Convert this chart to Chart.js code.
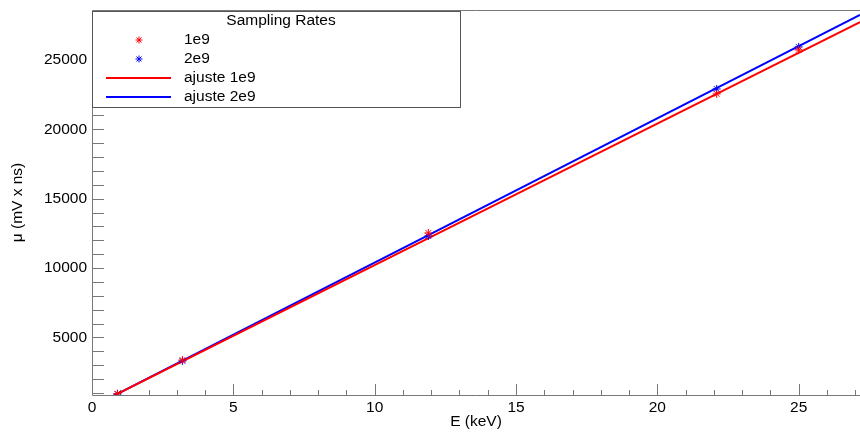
<!DOCTYPE html>
<html>
<head>
<meta charset="utf-8">
<script src="https://cdn.jsdelivr.net/npm/chart.js@4.4.0/dist/chart.umd.min.js"></script>
<style>
html, body { margin: 0; padding: 0; background: #fff; }
</style>
</head>
<body>
<canvas id="c" width="860" height="432"></canvas>
<script>
// measured points, E (keV) vs mu (mV x ns)
var energy = [0.9, 3.2, 11.9, 22.1, 25.0];
var mu1e9 = [950, 3370, 12530, 22550, 25720];
var mu2e9 = [930, 3300, 12310, 22910, 25940];

// linear fits p0 + p1*E
var fit1e9 = { p0: 14, p1: 1020 };
var fit2e9 = { p0: -3, p1: 1040 };
var fitRange = [0, 27.17];

var xTicks = [0, 5, 10, 15, 20, 25];
var yTicks = [5000, 10000, 15000, 20000, 25000];

var FONT = "'Liberation Sans', Arial, sans-serif";
var AXIS_GREY = "#777";

function pts(xs, ys) {
	return xs.map(function (x, i) { return { x: x, y: ys[i] }; });
}
function fitLine(f) {
	return fitRange.map(function (x) { return { x: x, y: f.p0 + f.p1 * x }; });
}

function drawStar(ctx, x, y, r, color) {
	var d = r * Math.SQRT1_2;
	ctx.save();
	ctx.strokeStyle = color;
	ctx.lineWidth = 1;
	ctx.beginPath();
	ctx.moveTo(x - r, y); ctx.lineTo(x + r, y);
	ctx.moveTo(x, y - r); ctx.lineTo(x, y + r);
	ctx.moveTo(x - d, y - d); ctx.lineTo(x + d, y + d);
	ctx.moveTo(x - d, y + d); ctx.lineTo(x + d, y - d);
	ctx.stroke();
	ctx.restore();
}

// ROOT-like frame with inward tick marks
var rootAxes = {
	id: "rootAxes",
	beforeDatasetsDraw: function (chart) {
		var ctx = chart.ctx, a = chart.chartArea;
		var sx = chart.scales.x, sy = chart.scales.y;
		ctx.save();
		ctx.strokeStyle = AXIS_GREY;
		ctx.lineWidth = 1;
		ctx.beginPath();
		ctx.moveTo(a.right, a.top + 0.5); ctx.lineTo(a.left + 0.5, a.top + 0.5);
		ctx.lineTo(a.left + 0.5, a.bottom + 0.5); ctx.lineTo(a.right, a.bottom + 0.5);
		for (var e = Math.ceil(sx.min); e <= sx.max; e++) {
			var px = Math.round(sx.getPixelForValue(e)) + 0.5;
			var len = (e % 5 === 0) ? 11 : 5;
			ctx.moveTo(px, a.bottom); ctx.lineTo(px, a.bottom - len);
		}
		for (var v = Math.ceil(sy.min / 1000) * 1000; v <= sy.max; v += 1000) {
			var py = Math.round(sy.getPixelForValue(v)) + 0.5;
			ctx.moveTo(a.left, py); ctx.lineTo(a.left + 12, py);
		}
		ctx.stroke();
		ctx.restore();
	},
	afterDraw: function (chart) {
		var ctx = chart.ctx, ds = chart.data.datasets;
		var bx = 92, by = 11, bw = 368, bh = 96;
		ctx.save();
		ctx.fillStyle = "#fff";
		ctx.fillRect(bx, by, bw, bh);
		ctx.strokeStyle = "#555";
		ctx.lineWidth = 1;
		ctx.strokeRect(bx + 0.5, by + 0.5, bw, bh);
		ctx.font = "15.5px " + FONT;
		ctx.fillStyle = "#000";
		ctx.textBaseline = "middle";
		ctx.textAlign = "center";
		ctx.fillText("Sampling Rates", 281, 21);
		ctx.textAlign = "left";
		var rows = [40, 59, 78, 97];
		ds.forEach(function (d, i) {
			var y = rows[i];
			if (d.showLine) {
				ctx.strokeStyle = d.borderColor;
				ctx.lineWidth = 2;
				ctx.beginPath();
				ctx.moveTo(106, y); ctx.lineTo(171, y);
				ctx.stroke();
			} else {
				drawStar(ctx, 139, y, 3.5, d.borderColor);
			}
			ctx.fillStyle = "#000";
			ctx.fillText(d.label, 184, y);
		});
		ctx.restore();
	}
};

Chart.defaults.font.family = FONT;
Chart.defaults.font.size = 15.5;
Chart.defaults.color = "#000";

var chart = new Chart(document.getElementById("c"), {
	type: "scatter",
	data: {
		datasets: [
			{
				label: "1e9",
				data: pts(energy, mu1e9),
				borderColor: "#ff0000",
				backgroundColor: "#ff0000",
				pointStyle: "star",
				pointRadius: 4,
				borderWidth: 1
			},
			{
				label: "2e9",
				data: pts(energy, mu2e9),
				borderColor: "#0000ff",
				backgroundColor: "#0000ff",
				pointStyle: "star",
				pointRadius: 4,
				borderWidth: 1
			},
			{
				label: "ajuste 1e9",
				data: fitLine(fit1e9),
				showLine: true,
				borderColor: "#ff0000",
				borderWidth: 2,
				pointRadius: 0
			},
			{
				label: "ajuste 2e9",
				data: fitLine(fit2e9),
				showLine: true,
				borderColor: "#0000ff",
				borderWidth: 2,
				pointRadius: 0
			}
		]
	},
	options: {
		responsive: false,
		animation: false,
		layout: { autoPadding: false, padding: { top: 10, left: 0, right: 0, bottom: 0 } },
		plugins: {
			legend: { display: false },
			tooltip: { enabled: false }
		},
		scales: {
			x: {
				type: "linear",
				min: 0,
				max: 27.17,
				grid: { display: false, drawTicks: false, tickLength: 0 },
				border: { display: false },
				afterBuildTicks: function (s) { s.ticks = xTicks.map(function (v) { return { value: v }; }); },
				afterFit: function (s) { s.height = 37; s.paddingLeft = 0; s.paddingRight = 0; },
				ticks: {
					padding: 3,
					maxRotation: 0,
					callback: function (v) { return String(v); }
				},
				title: {
					display: true,
					text: "E (keV)",
					padding: { top: 0, bottom: 1 }
				}
			},
			y: {
				type: "linear",
				min: 850,
				max: 28600,
				grid: { display: false, drawTicks: false, tickLength: 0 },
				border: { display: false },
				afterBuildTicks: function (s) { s.ticks = yTicks.map(function (v) { return { value: v }; }); },
				afterFit: function (s) { s.width = 92; s.paddingTop = 0; s.paddingBottom = 0; },
				ticks: {
					padding: 5,
					callback: function (v) { return String(v); }
				},
				title: {
					display: true,
					text: "\u03bc (mV x ns)",
					padding: { top: 8, bottom: 0 }
				}
			}
		}
	},
	plugins: [rootAxes]
});
</script>
</body>
</html>
